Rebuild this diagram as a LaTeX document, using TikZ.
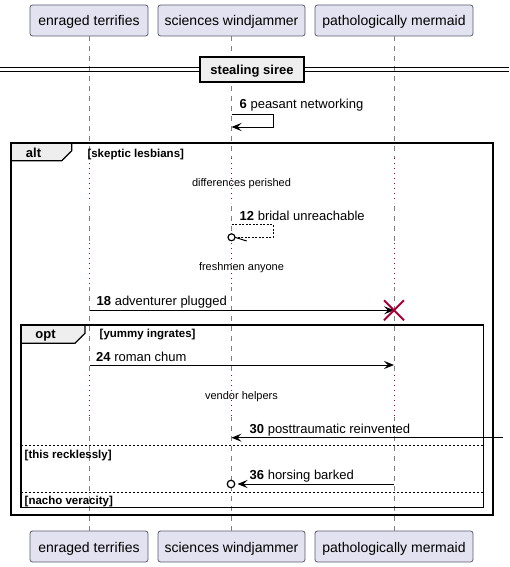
\documentclass[tikz,border=0pt]{standalone}
\usepackage{fontspec}
\setmainfont{Liberation Sans}
\usetikzlibrary{arrows.meta}
\definecolor{partfill}{HTML}{E2E2F0}
\definecolor{partline}{HTML}{5A5A6E}
\definecolor{delayred}{HTML}{A80036}
\definecolor{tabfill}{HTML}{EEEEEE}
\definecolor{lifegray}{HTML}{808080}
\begin{document}
\begin{tikzpicture}[x=1pt,y=-1pt,
  partbox/.style={draw=partline, fill=partfill, rounded corners=2.5pt, line width=0.8pt,
    minimum height=31pt, inner sep=0pt, text height=11pt, text depth=0pt,
    font=\fontsize{14}{16}\selectfont},
  lifeline/.style={draw=lifegray, line width=0.8pt, dash pattern=on 5pt off 5pt},
  delayline/.style={draw=delayred, line width=1pt, dash pattern=on 1pt off 4pt},
  delaytext/.style={anchor=base, inner sep=0pt, font=\fontsize{11}{13}\selectfont},
  msglabel/.style={anchor=base west, inner sep=0pt, font=\fontsize{13}{15}\selectfont},
  guardtext/.style={anchor=base west, inner sep=0pt, font=\fontsize{11.5}{13}\selectfont\bfseries},
  tabtext/.style={anchor=base, inner sep=0pt, font=\fontsize{13}{15}\selectfont\bfseries},
  framebox/.style={draw=black, line width=1.5pt},
  tabshape/.style={draw=black, fill=tabfill, line width=1.2pt},
  msgtip/.style={-{Stealth[length=10pt,width=8pt,inset=4pt]}},
  msg/.style={draw=black, line width=1pt},
  elseline/.style={draw=black, line width=0.8pt, dash pattern=on 2pt off 2pt},
  endcircle/.style={draw=black, fill=white, line width=1.2pt},
]
\useasboundingbox (0,0) rectangle (509,567);
\fill[white] (0,0) rectangle (509,567);

% participants (top and bottom)
\node[partbox, minimum width=118pt] (pA) at (89,20.5) {enraged terrifies};
\node[partbox, minimum width=147pt] (pB) at (231.5,20.5) {sciences windjammer};
\node[partbox, minimum width=158pt] (pC) at (394,20.5) {pathologically mermaid};
\node[partbox, minimum width=118pt] (pAb) at (89,546.5) {enraged terrifies};
\node[partbox, minimum width=147pt] (pBb) at (231.5,546.5) {sciences windjammer};
\node[partbox, minimum width=158pt] (pCb) at (394,546.5) {pathologically mermaid};

% lifelines
\draw[lifeline] (pA.south) -- (pAb.north);
\draw[lifeline] (pB.south) -- (pBb.north);
\draw[lifeline] (pC.south) -- (pCb.north);

% delay sections: lifelines become dotted
\foreach \ya/\yb in {158/203, 243/287, 375/417}{
  \foreach \xx in {89, 231.5, 394}{
    \draw[white, line width=2pt] (\xx,\ya) -- (\xx,\yb);
    \draw[delayline] (\xx,\ya) -- (\xx,\yb);
  }
}

% divider
\draw[line width=1pt] (0,67.7) -- (509,67.7);
\draw[line width=1pt] (0,71.4) -- (509,71.4);
\node[draw=black, fill=tabfill, line width=2pt, minimum width=104pt, minimum height=25pt,
  inner sep=0pt, text height=9.5pt, text depth=0pt, font=\fontsize{13}{15}\selectfont\bfseries]
  (divider) at (252,69.5) {stealing siree};

% message 6 (self)
\coordinate (m6a) at (231.5,115);
\coordinate (m6b) at (273,115);
\coordinate (m6c) at (273,127);
\coordinate (m6d) at (231.5,127);
\draw[msg, msgtip] (m6a) -- (m6b) -- (m6c) -- (m6d);
\node[msglabel] (l6) at (239.5,109) {\textbf{6} peasant networking};

% alt frame
\draw[framebox] (11,143) rectangle (493,515);
\draw[tabshape] (11,143) -- (71.7,143) -- (71.7,150.7) -- (61.7,160.7) -- (11,160.7) -- cycle;
\draw[framebox] (11,143) rectangle (493,515);
\node[tabtext] (altlbl) at (33.5,157) {alt};
\node[guardtext] (g1) at (87.3,157) {[skeptic lesbians]};

% delay text
\node[delaytext] (d1) at (241.5,186) {differences perished};

% message 12 (dashed self, open circle end)
\coordinate (m12a) at (231.5,224.5);
\coordinate (m12b) at (273,224.5);
\coordinate (m12c) at (273,237.3);
\coordinate (m12d) at (235,237.3);
\coordinate (m12e) at (246.7,241);
\draw[line width=0.8pt, dash pattern=on 2pt off 1.5pt] (m12a) -- (m12b) -- (m12c) -- (m12d);
\draw[line width=1pt] (m12d) -- (m12e);
\node[endcircle, circle, minimum size=7pt, inner sep=0pt] (c12) at (231.5,237.3) {};
\node[msglabel] (l12) at (239.5,220.5) {\textbf{12} bridal unreachable};

\node[delaytext] (d2) at (241.5,270.5) {freshmen anyone};

% message 18 with destroy
\coordinate (m18a) at (89.5,310.3);
\coordinate (m18b) at (394,310.3);
\draw[msg, msgtip] (m18a) -- (m18b);
\node[msglabel] (l18) at (96.5,305.5) {\textbf{18} adventurer plugged};
\draw[delayred, line width=2pt] (384,300.3) -- (404,320.3) (384,320.3) -- (404,300.3);

% opt frame
\draw[framebox] (21,325) rectangle (483.3,507.3);
\draw[tabshape] (21,325) -- (85,325) -- (85,333.3) -- (75,343.3) -- (21,343.3) -- cycle;
\draw[framebox] (21,325) rectangle (483.3,507.3);
\node[tabtext] (optlbl) at (45.5,338.5) {opt};
\node[guardtext] (g2) at (99.5,337.5) {[yummy ingrates]};

% message 24
\coordinate (m24a) at (89.5,365);
\coordinate (m24b) at (394,365);
\draw[msg, msgtip] (m24a) -- (m24b);
\node[msglabel] (l24) at (96,361.5) {\textbf{24} roman chum};

\node[delaytext] (d3) at (241.5,399) {vendor helpers};

% message 30 from outside
\coordinate (m30a) at (503,437.7);
\coordinate (m30b) at (231.5,437.7);
\draw[msg, msgtip] (m30a) -- (m30b);
\node[msglabel] (l30) at (249.5,433) {\textbf{30} posttraumatic reinvented};

% else separators
\coordinate (e1a) at (21,445.7);
\coordinate (e1b) at (483.3,445.7);
\draw[elseline] (e1a) -- (e1b);
\node[guardtext] (g3) at (24.5,458) {[this recklessly]};

% message 36 with circle end
\coordinate (m36a) at (394,484);
\coordinate (m36b) at (237.5,484);
\draw[msg, msgtip] (m36a) -- (m36b);
\node[endcircle, circle, minimum size=7.5pt, inner sep=0pt] (c36) at (231,484) {};
\node[msglabel] (l36) at (249.5,479) {\textbf{36} horsing barked};

\coordinate (e2a) at (21,492.7);
\coordinate (e2b) at (483.3,492.7);
\draw[elseline] (e2a) -- (e2b);
\node[guardtext] (g4) at (24.5,504.5) {[nacho veracity]};
\end{tikzpicture}
\end{document}
